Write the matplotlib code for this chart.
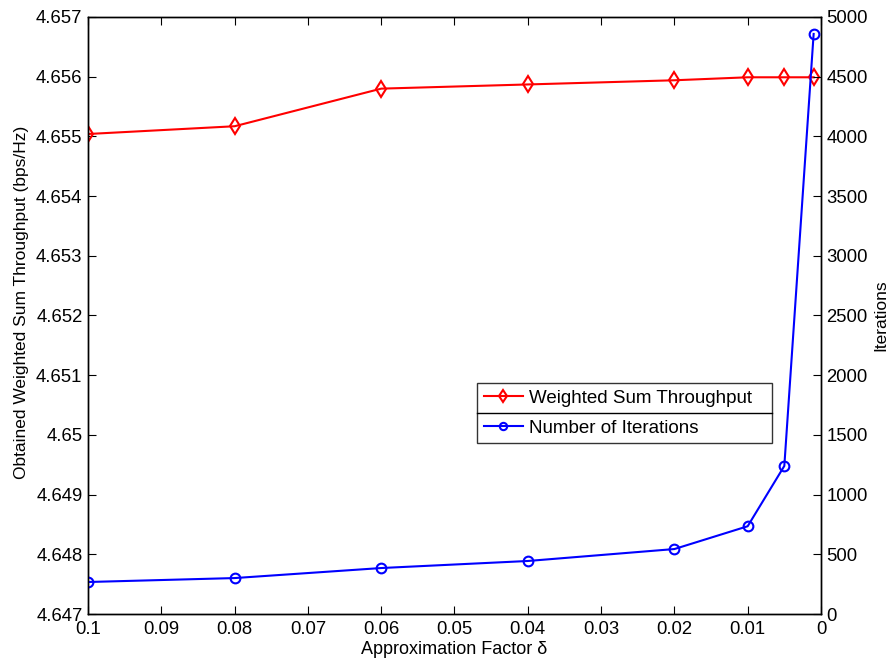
import matplotlib
matplotlib.use("Agg")
import matplotlib.pyplot as plt
from matplotlib.lines import Line2D

plt.rcParams['font.family'] = ['Liberation Sans', 'DejaVu Sans']

delta = [0.1, 0.08, 0.06, 0.04, 0.02, 0.01, 0.005, 0.001]
throughput = [4.65504, 4.65517, 4.65580, 4.65587, 4.65594, 4.65599, 4.65599, 4.65599]
iterations = [268, 301, 385, 444, 544, 735, 1240, 4858]
xticks = [0.1, 0.09, 0.08, 0.07, 0.06, 0.05, 0.04, 0.03, 0.02, 0.01, 0]
xticklabels = ['0.1', '0.09', '0.08', '0.07', '0.06', '0.05', '0.04', '0.03', '0.02', '0.01', '0']
yticks_left = [4.647, 4.648, 4.649, 4.65, 4.651, 4.652, 4.653, 4.654, 4.655, 4.656, 4.657]
yticklabels_left = ['4.647', '4.648', '4.649', '4.65', '4.651', '4.652', '4.653', '4.654', '4.655', '4.656', '4.657']
yticks_right = [0, 500, 1000, 1500, 2000, 2500, 3000, 3500, 4000, 4500, 5000]

fig = plt.figure(figsize=(8.91, 6.61), dpi=100)
ax = fig.add_axes([0.0988, 0.0711, 0.8226, 0.9032])
ax2 = ax.twinx()

ax.plot(delta, throughput, color='red', lw=1.5, marker='d', ms=8, mfc='none', mew=1.5)
ax2.plot(delta, iterations, color='blue', lw=1.5, marker='o', ms=7, mfc='none', mew=1.5)

ax.set_xlim(0.1, 0)
ax.set_ylim(4.647, 4.657)
ax2.set_ylim(0, 5000)
ax.set_xticks(xticks)
ax.set_xticklabels(xticklabels)
ax.set_yticks(yticks_left)
ax.set_yticklabels(yticklabels_left)
ax2.set_yticks(yticks_right)

ax.tick_params(direction='in', length=6, labelsize=13.3, top=True, right=False, pad=4)
ax2.tick_params(direction='in', length=6, labelsize=13.3, pad=4)
ax.tick_params(axis='x', pad=5)

ax.set_xlabel('Approximation Factor δ', fontsize=13, labelpad=2)
ax.set_ylabel('Obtained Weighted Sum Throughput (bps/Hz)', fontsize=12.5, labelpad=5)
ax.yaxis.label.set_y(0.522)
ax2.set_ylabel('Iterations', fontsize=12.5, labelpad=4)

for a in (ax, ax2):
    for s in a.spines.values():
        s.set_linewidth(1.0)

handles = [Line2D([], [], color='red', lw=1.5, marker='d', ms=8, mfc='none', mew=1.5),
           Line2D([], [], color='blue', lw=1.5, marker='o', ms=7, mfc='none', mew=1.5)]
x0 = (477 - 88) / 733
x1 = (772 - 88) / 733
ytop = 1 - (383 - 17) / 597
leg = ax2.legend(handles, ['Weighted Sum Throughput', 'Number of Iterations'],
                 loc='upper left', bbox_to_anchor=(x0, ytop - 0.2, x1 - x0, 0.2), mode='expand',
                 fontsize=13.5, frameon=True, fancybox=False, edgecolor='black',
                 borderaxespad=0, handlelength=2.1, handletextpad=0.35, markerscale=0.75,
                 borderpad=0.35, labelspacing=0.7)
leg.get_frame().set_linewidth(1.0)
ymid = 1 - (413 - 17) / 597
ax2.add_line(Line2D([x0, x1], [ymid, ymid], transform=ax2.transAxes, color='black', lw=1.0, zorder=10))

fig.savefig('out.png', dpi=100)
